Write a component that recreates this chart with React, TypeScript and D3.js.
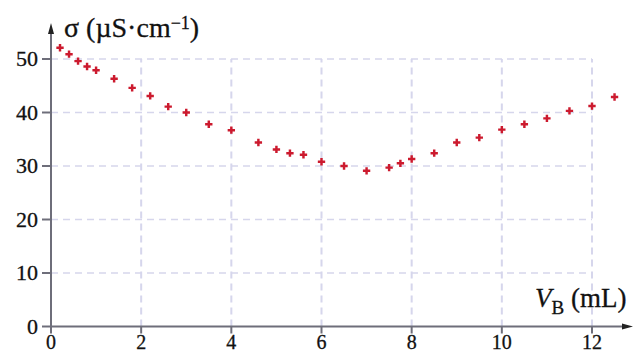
import React from "react";
import * as d3 from "d3";

// titration data: volume of base added (mL) vs conductivity (µS/cm)
const volumes = [
  0.2, 0.4, 0.6, 0.8, 1.0, 1.4, 1.8, 2.2, 2.6, 3.0, 3.5, 4.0, 4.6, 5.0, 5.3, 5.6,
  6.0, 6.5, 7.0, 7.5, 7.75, 8.0, 8.5, 9.0, 9.5, 10.0, 10.5, 11.0, 11.5, 12.0, 12.5,
];
const sigma = [
  52.1, 50.9, 49.6, 48.6, 47.9, 46.3, 44.6, 43.1, 41.1, 40.0, 37.8, 36.7, 34.4, 33.1, 32.4, 32.1,
  30.8, 30.0, 29.1, 29.7, 30.5, 31.3, 32.4, 34.4, 35.3, 36.8, 37.8, 38.9, 40.3, 41.2, 42.9,
];
const xTicks = [0, 2, 4, 6, 8, 10, 12];
const yTicks = [0, 10, 20, 30, 40, 50];

const W = 634;
const H = 354;

export default function App() {
  const x = d3.scaleLinear().domain([0, 12]).range([51, 592]);
  const y = d3.scaleLinear().domain([0, 50]).range([326.5, 59]);
  const cross = d3.symbol().type(d3.symbolCross).size(30)();
  const gridColor = "#d6d6ec";
  const axisColor = "#6e6e7a";
  const font = '"Liberation Serif", "DejaVu Serif", serif';
  const ink = "#111";

  const points = volumes.map((v, i) => ({ v, s: sigma[i] }));

  return (
    <svg
      width={W}
      height={H}
      style={{ position: "absolute", left: 0, top: 0, background: "#fff" }}
      fontFamily={font}
    >
      {/* grid */}
      {yTicks.filter((t) => t > 0).map((t) => (
        <line
          key={"gy" + t}
          x1={x(0)}
          x2={x(12)}
          y1={y(t)}
          y2={y(t)}
          stroke={gridColor}
          strokeWidth={1.6}
          strokeDasharray="7 5"
        />
      ))}
      {xTicks.filter((t) => t > 0).map((t) => (
        <line
          key={"gx" + t}
          x1={x(t)}
          x2={x(t)}
          y1={y(0)}
          y2={y(50)}
          stroke={gridColor}
          strokeWidth={2}
          strokeDasharray="7 5"
        />
      ))}

      {/* axes */}
      <line x1={x(0)} x2={626} y1={y(0)} y2={y(0)} stroke={axisColor} strokeWidth={2} />
      <path d={`M633,${y(0)} L622,${y(0) - 3} L622,${y(0) + 3} Z`} fill="#222" />
      <line x1={x(0)} x2={x(0)} y1={y(0)} y2={30} stroke={axisColor} strokeWidth={2} />
      <path d={`M${x(0)},23 L${x(0) - 3},34 L${x(0) + 3},34 Z`} fill="#222" />

      {/* ticks + labels */}
      {yTicks.map((t) => (
        <g key={"ty" + t}>
          <line x1={x(0) - 9} x2={x(0)} y1={y(t)} y2={y(t)} stroke={axisColor} strokeWidth={2} />
          <text
            x={38}
            y={y(t)}
            dy="0.34em"
            textAnchor="end"
            fontSize={22}
            fill={ink}
            stroke={ink}
            strokeWidth={0.3}
          >
            {t}
          </text>
        </g>
      ))}
      {xTicks.map((t) => (
        <g key={"tx" + t}>
          <line x1={x(t)} x2={x(t)} y1={y(0)} y2={y(0) + 7} stroke={axisColor} strokeWidth={2} />
          <text
            x={x(t)}
            y={349}
            textAnchor="middle"
            fontSize={20}
            fill={ink}
            stroke={ink}
            strokeWidth={0.3}
          >
            {t}
          </text>
        </g>
      ))}

      {/* axis titles */}
      <text x={64} y={37} fontSize={28} fill={ink} stroke={ink} strokeWidth={0.3}>
        σ (µS·cm<tspan dy={-8} fontSize={18}>−1</tspan>
        <tspan dy={8}>)</tspan>
      </text>
      <text x={535} y={307} fontSize={27} fill={ink} stroke={ink} strokeWidth={0.3}>
        <tspan fontStyle="italic">V</tspan>
        <tspan dy={7} fontSize={19}>B</tspan>
        <tspan dy={-7}> (mL)</tspan>
      </text>

      {/* data points */}
      {points.map((p, i) => (
        <path
          key={i}
          d={cross}
          transform={`translate(${x(p.v)},${y(p.s)})`}
          fill="#cc1a2e"
        />
      ))}
    </svg>
  );
}
